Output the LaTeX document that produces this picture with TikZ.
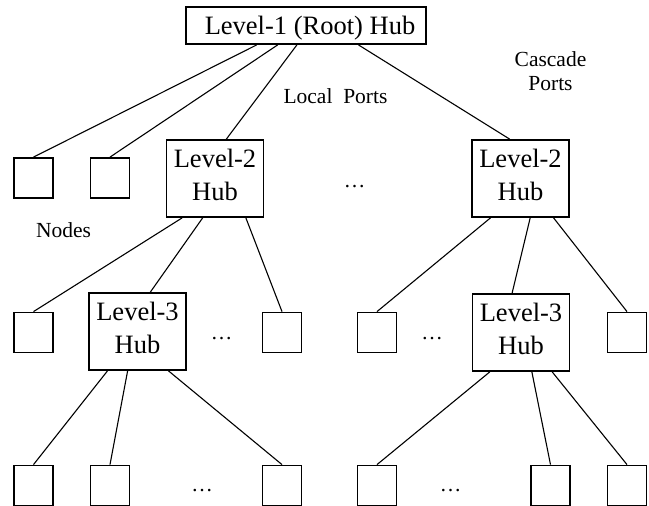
\documentclass[tikz,border=0pt]{standalone}
\usepackage{fontspec}
\setmainfont{Liberation Serif}
\usetikzlibrary{calc}
\newcommand\hubfont{\fontsize{26.5}{33}\selectfont}
\newcommand\notefont{\fontsize{21.5}{24}\selectfont}
\begin{document}
\begin{tikzpicture}[x=1pt,y=-1pt,
  box/.style={draw, line width=1.8pt, inner sep=0pt, font=\hubfont},
  hub/.style={box, align=center, minimum width=97pt, minimum height=77pt, text depth=8pt},
  leaf/.style={draw, line width=1.8pt, inner sep=0pt, minimum width=39pt, minimum height=40pt},
  link/.style={line width=1.1pt},
  note/.style={font=\notefont, inner sep=0pt, anchor=base},
]
\useasboundingbox (0,0) rectangle (649,506);

% hubs
\node[box, minimum width=240pt, minimum height=37pt, text depth=0pt] (root) at (306,25.5) {\hspace*{8pt}Level-1 (Root) Hub};
\node[hub] (h2a) at (215,178.5) {Level-2\\Hub};
\node[hub] (h2b) at (520.5,178.5) {Level-2\\Hub};
\node[hub] (h3a) at (137.5,331.5) {Level-3\\Hub};
\node[hub] (h3b) at (521,332.5) {Level-3\\Hub};

% end nodes, first row
\node[leaf] (a1) at (33.5,178) {};
\node[leaf] (a2) at (110,178) {};
% second row
\node[leaf] (b1) at (33.5,332.5) {};
\node[leaf] (b2) at (282,332.5) {};
\node[leaf] (b3) at (377,332.5) {};
\node[leaf] (b4) at (627,332.5) {};
% third row
\node[leaf] (c1) at (33.5,485.5) {};
\node[leaf] (c2) at (110,485.5) {};
\node[leaf] (c3) at (282,485.5) {};
\node[leaf] (c4) at (377,485.5) {};
\node[leaf] (c5) at (550.5,485.5) {};
\node[leaf] (c6) at (627,485.5) {};

% labels
\node[note] (lp) at (335.5,103) {Local\enskip Ports};
\node[note, align=center] (cp) at (550.5,90) {Cascade\\Ports};
\node[note] (nd) at (63.5,237) {Nodes};
\node[note] (d1) at (354.5,187) {\ldots};
\node[note] (d2) at (221.5,339.5) {\ldots};
\node[note] (d3) at (432,339) {\ldots};
\node[note] (d4) at (202,491.5) {\ldots};
\node[note] (d5) at (450.5,491.5) {\ldots};

% links from the root hub
\draw[link] ($(root.south west)!0.296!(root.south east)$) -- (a1.north);
\draw[link] ($(root.south west)!0.383!(root.south east)$) -- (a2.north);
\draw[link] ($(root.south west)!0.4625!(root.south east)$) -- ($(h2a.north west)!0.615!(h2a.north east)$);
\draw[link] ($(root.south west)!0.717!(root.south east)$) -- ($(h2b.north west)!0.39!(h2b.north east)$);

% links from the left level-2 hub
\draw[link] ($(h2a.south west)!0.167!(h2a.south east)$) -- (b1.north);
\draw[link] ($(h2a.south west)!0.375!(h2a.south east)$) -- ($(h3a.north west)!0.63!(h3a.north east)$);
\draw[link] ($(h2a.south west)!0.8125!(h2a.south east)$) -- (b2.north);

% links from the right level-2 hub
\draw[link] ($(h2b.south west)!0.196!(h2b.south east)$) -- (b3.north);
\draw[link] ($(h2b.south west)!0.598!(h2b.south east)$) -- ($(h3b.north west)!0.41!(h3b.north east)$);
\draw[link] ($(h2b.south west)!0.835!(h2b.south east)$) -- (b4.north);

% links from the level-3 hubs
\draw[link] ($(h3a.south west)!0.196!(h3a.south east)$) -- (c1.north);
\draw[link] ($(h3a.south west)!0.40!(h3a.south east)$) -- (c2.north);
\draw[link] ($(h3a.south west)!0.814!(h3a.south east)$) -- (c3.north);
\draw[link] ($(h3b.south west)!0.184!(h3b.south east)$) -- (c4.north);
\draw[link] ($(h3b.south west)!0.61!(h3b.south east)$) -- (c5.north);
\draw[link] ($(h3b.south west)!0.816!(h3b.south east)$) -- (c6.north);
\end{tikzpicture}
\end{document}
